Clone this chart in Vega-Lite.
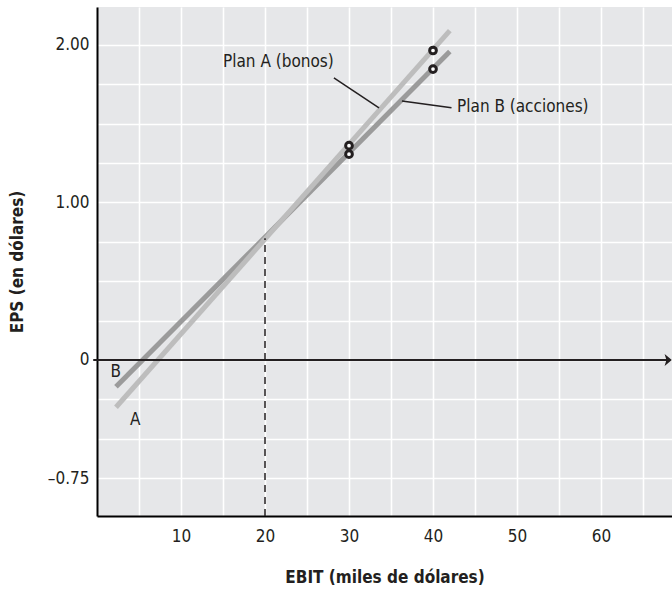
{
  "$schema": "https://vega.github.io/schema/vega-lite/v6.json",
  "width": 575,
  "height": 509,
  "autosize": {"type": "none"},
  "padding": {"left": 97, "top": 7, "right": 0, "bottom": 75},
  "background": "white",
  "config": {
    "font": "DejaVu Sans Condensed, Liberation Sans Narrow, sans-serif",
    "view": {"fill": "#e6e7e9", "stroke": null}
  },
  "datasets": {
    "lineA": [{"x": 2.26, "y": -0.30}, {"x": 42.0, "y": 2.09}],
    "lineB": [{"x": 2.26, "y": -0.17}, {"x": 42.0, "y": 1.957}],
    "zero": [{"x": -0.45, "x2": 68.0, "y": 0}],
    "arrow": [{"x": 68.0, "y": 0}],
    "dash": [{"x": 20, "y": -0.99, "y2": 0.772}],
    "leaders": [
      {"x": 28.2, "y": 1.79, "x2": 33.57, "y2": 1.60},
      {"x": 36.3, "y": 1.644, "x2": 42.2, "y2": 1.60}
    ],
    "points": [
      {"x": 30, "y": 1.36},
      {"x": 30, "y": 1.306},
      {"x": 40, "y": 1.964},
      {"x": 40, "y": 1.846}
    ],
    "labels": [
      {"x": 15.0, "y": 1.892, "label": "Plan A (bonos)"},
      {"x": 42.86, "y": 1.606, "label": "Plan B (acciones)"},
      {"x": 1.6, "y": -0.079, "label": "B"},
      {"x": 3.93, "y": -0.378, "label": "A"}
    ]
  },
  "encoding": {
    "x": {
      "field": "x",
      "type": "quantitative",
      "scale": {"domain": [0, 68.45], "nice": false, "zero": false},
      "axis": {
        "values": [5, 10, 15, 20, 25, 30, 35, 40, 45, 50, 55, 60, 65],
        "labelExpr": "datum.value % 10 === 0 ? datum.label : ''",
        "grid": true,
        "gridColor": "white",
        "gridWidth": 1.6,
        "ticks": false,
        "domainColor": "black",
        "domainWidth": 2,
        "labelFontSize": 17,
        "labelColor": "#231f20",
        "labelPadding": 12,
        "title": "EBIT (miles de dólares)",
        "titleFontSize": 17,
        "titleFontWeight": "bold",
        "titleColor": "#231f20",
        "titleBaseline": "middle",
        "titleY": 61
      }
    },
    "y": {
      "field": "y",
      "type": "quantitative",
      "scale": {"domain": [-0.99, 2.24], "nice": false, "zero": false},
      "axis": {
        "values": [-0.75, -0.5, -0.25, 0, 0.25, 0.5, 0.75, 1, 1.25, 1.5, 1.75, 2],
        "labelExpr": "datum.value === 2 ? '2.00' : datum.value === 1 ? '1.00' : datum.value === 0 ? '0' : datum.value === -0.75 ? '–0.75' : ''",
        "grid": true,
        "gridColor": "white",
        "gridWidth": 1.6,
        "ticks": false,
        "domainColor": "black",
        "domainWidth": 2,
        "labelFontSize": 17,
        "labelColor": "#231f20",
        "labelPadding": 8,
        "title": "EPS (en dólares)",
        "titleFontSize": 17,
        "titleFontWeight": "bold",
        "titleColor": "#231f20",
        "titleBaseline": "middle",
        "titleX": -80
      }
    }
  },
  "layer": [
    {
      "data": {"name": "lineB"},
      "mark": {"type": "line", "color": "#9b9b9b", "strokeWidth": 5, "strokeCap": "butt"}
    },
    {
      "data": {"name": "lineA"},
      "mark": {"type": "line", "color": "#bdbdbd", "strokeWidth": 5, "strokeCap": "butt"}
    },
    {
      "data": {"name": "zero"},
      "mark": {"type": "rule", "color": "#231f20", "strokeWidth": 2},
      "encoding": {"x2": {"field": "x2"}}
    },
    {
      "data": {"name": "arrow"},
      "mark": {"type": "point", "shape": "M -0.6 -1 L 0.6 0 L -0.6 1 L -0.3 0 Z", "filled": true, "color": "#231f20", "size": 144, "opacity": 1}
    },
    {
      "data": {"name": "dash"},
      "mark": {"type": "rule", "color": "#231f20", "strokeWidth": 1.5, "strokeDash": [7, 5]},
      "encoding": {"y2": {"field": "y2"}}
    },
    {
      "data": {"name": "leaders"},
      "mark": {"type": "rule", "color": "#231f20", "strokeWidth": 1.5},
      "encoding": {"x2": {"field": "x2"}, "y2": {"field": "y2"}}
    },
    {
      "data": {"name": "points"},
      "mark": {"type": "point", "shape": "circle", "filled": false, "fill": "white", "stroke": "#231f20", "strokeWidth": 3, "size": 45, "opacity": 1}
    },
    {
      "data": {"name": "labels"},
      "mark": {"type": "text", "align": "left", "baseline": "middle", "fontSize": 17, "color": "#231f20"},
      "encoding": {"text": {"field": "label"}}
    }
  ]
}
